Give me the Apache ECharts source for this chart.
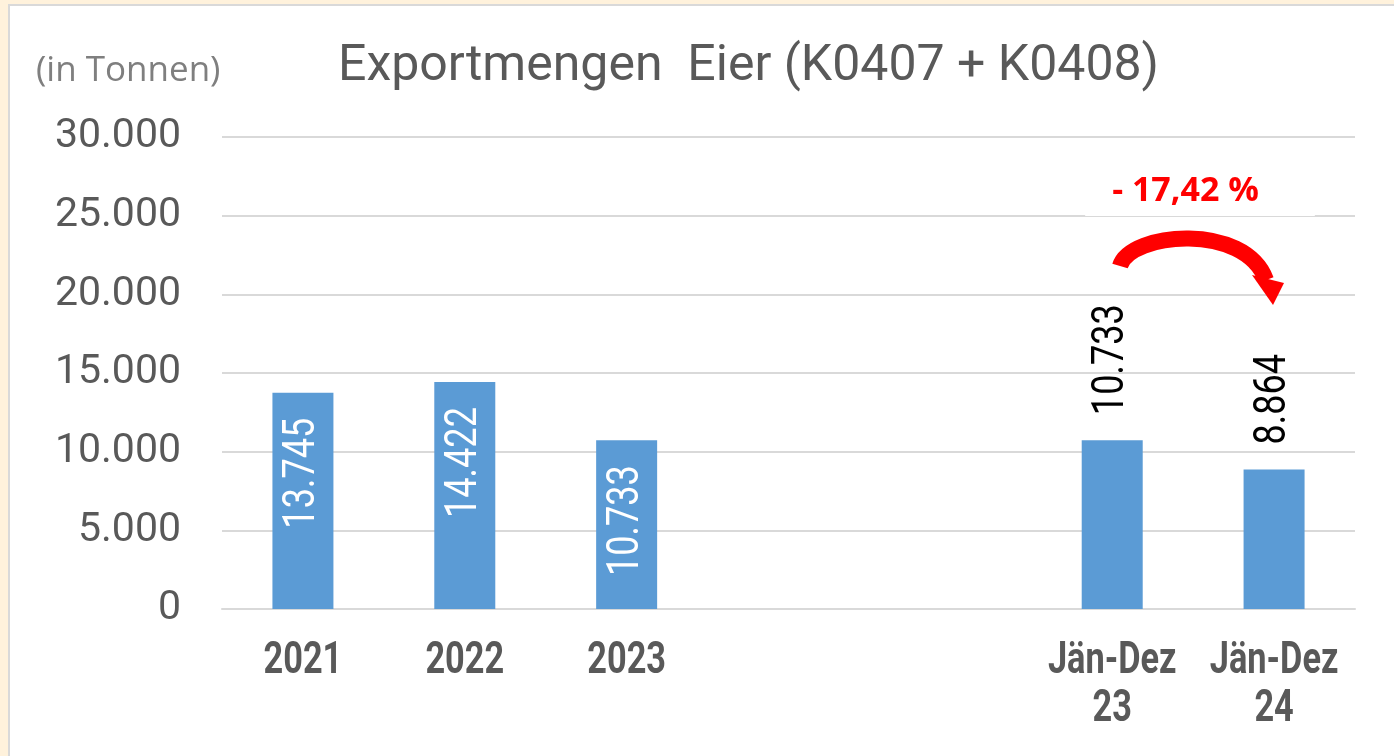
<!DOCTYPE html>
<html>
<head>
<meta charset="utf-8">
<script src="https://cdn.jsdelivr.net/npm/echarts@6.0.0/dist/echarts.min.js"></script>
<style>
html, body { margin: 0; padding: 0; background: #fff2dc; overflow: hidden; }
#panel { position: absolute; left: 8px; top: 4px; right: 0; bottom: 0; background: #fff;
  border-top: 2px solid #d9d9d9; border-left: 2px solid #d9d9d9; }
#main { position: absolute; left: 0; top: 0; width: 1394px; height: 756px; }
</style>
</head>
<body>
<div id="panel"></div>
<div id="main"></div>
<script>
// Exportmengen Eier, in Tonnen
const categories = ['2021', '2022', '2023', '', '', 'Jän-Dez\n23', 'Jän-Dez\n24'];
const exportValues = [13745, 14422, 10733, '-', '-', 10733, 8864];
const yTicks = [0, 5000, 10000, 15000, 20000, 25000, 30000];
const changeText = '- 17,42 %';

// 1.234 Schreibweise
function fmt(v) {
  return String(v).replace(/\B(?=(\d{3})+(?!\d))/g, '.');
}

const chart = echarts.init(document.getElementById('main'), null, { renderer: 'canvas' });

const option = {
  animation: false,
  backgroundColor: 'transparent',
  title: {
    text: 'Exportmengen  Eier (K0407 + K0408)',
    left: 333,
    top: 37,
    textStyle: { fontFamily: 'Roboto', fontSize: 50, fontWeight: 'normal', color: '#595959' }
  },
  grid: { left: 222, right: 39, top: 137, bottom: 147, containLabel: false, outerBoundsMode: 'none' },
  xAxis: {
    type: 'category',
    data: categories,
    axisTick: { show: false },
    axisLine: { lineStyle: { color: '#d9d9d9', width: 2 } },
    axisLabel: { show: false }   // schmale Beschriftung kommt unten als graphic
  },
  yAxis: {
    type: 'value',
    min: yTicks[0],
    max: yTicks[yTicks.length - 1],
    interval: yTicks[1] - yTicks[0],
    axisLine: { show: false },
    axisTick: { show: false },
    splitLine: { lineStyle: { color: '#d9d9d9', width: 2 } },
    axisLabel: {
      margin: 41, color: '#595959', fontFamily: 'Roboto', fontSize: 41,
      formatter: v => fmt(v)
    }
  },
  series: [{
    type: 'bar',
    data: exportValues,
    barWidth: 61,
    itemStyle: { color: '#5b9bd5' }
  }],
  graphic: [
    {
      type: 'text', left: 36, top: 54, z: 100,
      style: { text: '(in Tonnen)', fill: '#7f7f7f', font: '35px "Open Sans"' }
    },
    {
      type: 'text', x: 1200, y: 191, z: 100,
      style: {
        text: changeText, fill: '#ff0000', font: 'bold 34px "Open Sans"',
        align: 'center', verticalAlign: 'middle',
        backgroundColor: '#ffffff', padding: [4, 56, 12, 27]
      }
    },
    {
      type: 'bezierCurve', z: 100,
      shape: { x1: 1120, y1: 266, cpx1: 1130, cpy1: 232, cpx2: 1245, cpy2: 222, x2: 1266, y2: 280 },
      style: { stroke: '#ff0000', lineWidth: 16, fill: null }
    },
    {
      type: 'polygon', z: 100,
      shape: { points: [[1252, 275], [1284, 283], [1273, 305]] },
      style: { fill: '#ff0000' }
    }
  ]
};

chart.setOption(option);

// schmale (gestauchte) Texte: Kategorien und Balkenwerte, Position ueber die Achsen
const extra = [];
categories.forEach((c, i) => {
  const base = chart.convertToPixel({ xAxisIndex: 0, yAxisIndex: 0 }, [i, 0]);
  if (c) {
    extra.push({
      type: 'text', x: base[0], y: base[1] + 29, scaleX: 0.78, z: 100,
      style: {
        text: c, font: 'bold 44px Roboto', fill: '#595959',
        align: 'center', verticalAlign: 'top', lineHeight: 48
      }
    });
  }
  const v = exportValues[i];
  if (v === '-') return;
  const top = chart.convertToPixel({ xAxisIndex: 0, yAxisIndex: 0 }, [i, v]);
  const inside = i < 3;
  extra.push({
    type: 'text', x: top[0], y: inside ? top[1] + 25 : top[1] - 25,
    rotation: Math.PI / 2, scaleX: 0.82, z: 100,
    style: {
      text: fmt(v), font: '44px Roboto', fill: inside ? '#ffffff' : '#000000',
      align: inside ? 'right' : 'left', verticalAlign: 'middle'
    }
  });
});
chart.setOption({ graphic: option.graphic.concat(extra) });
</script>
</body>
</html>
